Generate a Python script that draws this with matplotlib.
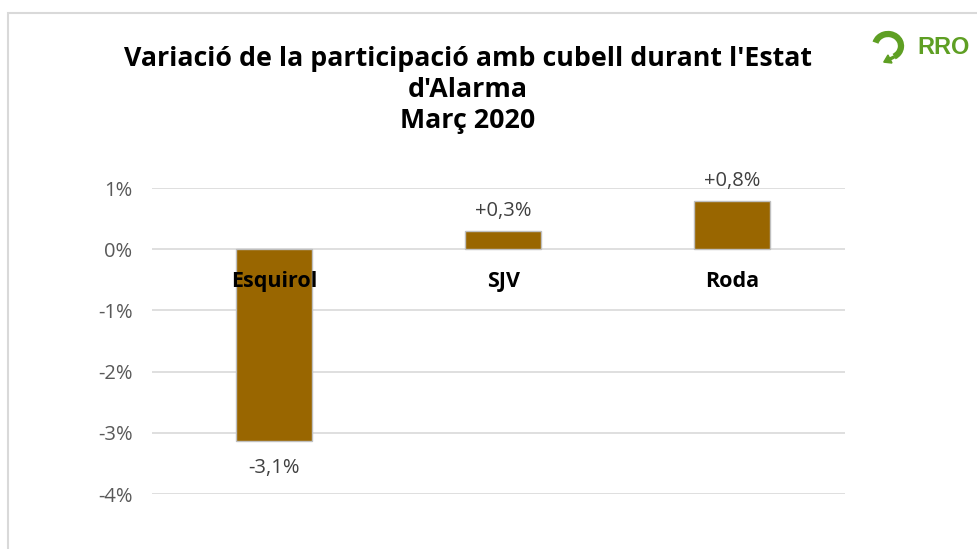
import matplotlib
matplotlib.use("Agg")
import matplotlib.pyplot as plt
from matplotlib.patches import Rectangle, Arc, FancyArrow

categories = ["Esquirol", "SJV", "Roda"]
values = [-3.14, 0.3, 0.79]
value_labels = ["-3,1%", "+0,3%", "+0,8%"]
yticks = [1, 0, -1, -2, -3, -4]
ytick_labels = ["1%", "0%", "-1%", "-2%", "-3%", "-4%"]

W, H = 978, 549
fig = plt.figure(figsize=(W/100, H/100), dpi=100)
plt.rcParams['font.family'] = ['Open Sans', 'DejaVu Sans']

# outer frame
fig.add_artist(Rectangle((8/W, -0.1), 1.2, (H-13)/H + 0.1, transform=fig.transFigure,
                         fill=False, edgecolor='#d9d9d9', lw=1.5))

ax = fig.add_axes([152/W, 1-494/H, (845-152)/W, (494-188)/H])
x = list(range(len(categories)))
ax.bar(x, values, width=0.33, color='#996600', edgecolor='#bfbfbf', linewidth=1, zorder=3)
ax.set_xlim(-0.533, 2.493)
ax.set_ylim(-4, 1)
ax.set_yticks(yticks)
ax.set_yticklabels(ytick_labels, color='#595959', fontsize=14.5)
ax.set_xticks([])
for s in ax.spines.values():
    s.set_visible(False)
ax.tick_params(axis='y', length=0, pad=14)
ax.grid(axis='y', color='#d9d9d9', linewidth=1.2, zorder=0)

for xi, v, lab, cat in zip(x, values, value_labels, categories):
    if v >= 0:
        ax.annotate(lab, (xi, v), xytext=(0, 14.5), textcoords='offset points',
                    ha='center', va='center', color='#404040', fontsize=14.5)
    else:
        ax.annotate(lab, (xi, v), xytext=(0, -19), textcoords='offset points',
                    ha='center', va='center', color='#404040', fontsize=14.5)
    ax.text(xi, -0.53, cat, ha='center', va='center', fontsize=15.5,
            fontweight='bold', color='black', zorder=4)

fig.text(468/W, 1-90/H, "Variació de la participació amb cubell durant l'Estat\nd'Alarma\nMarç 2020",
         ha='center', va='center', fontsize=19.3, fontweight='bold', color='black',
         linespacing=1.25)

# logo
green = '#5e9f23'
fig.text(944/W, 1-48/H, "RRO", ha='center', va='center', fontsize=17, fontweight='bold',
         color=green, family=['Liberation Sans', 'DejaVu Sans'])
lax = fig.add_axes([868/W, 1-68/H, 40/W, 40/H])
lax.set_xlim(0, 40); lax.set_ylim(0, 40); lax.axis('off')
lax.add_patch(Arc((20, 22), 26, 24, theta1=-60, theta2=165, color=green, lw=4.5))
lax.add_patch(FancyArrow(26, 11, -4, -2, width=2, head_width=9, head_length=7, color=green))

fig.savefig("out.png", dpi=100)
